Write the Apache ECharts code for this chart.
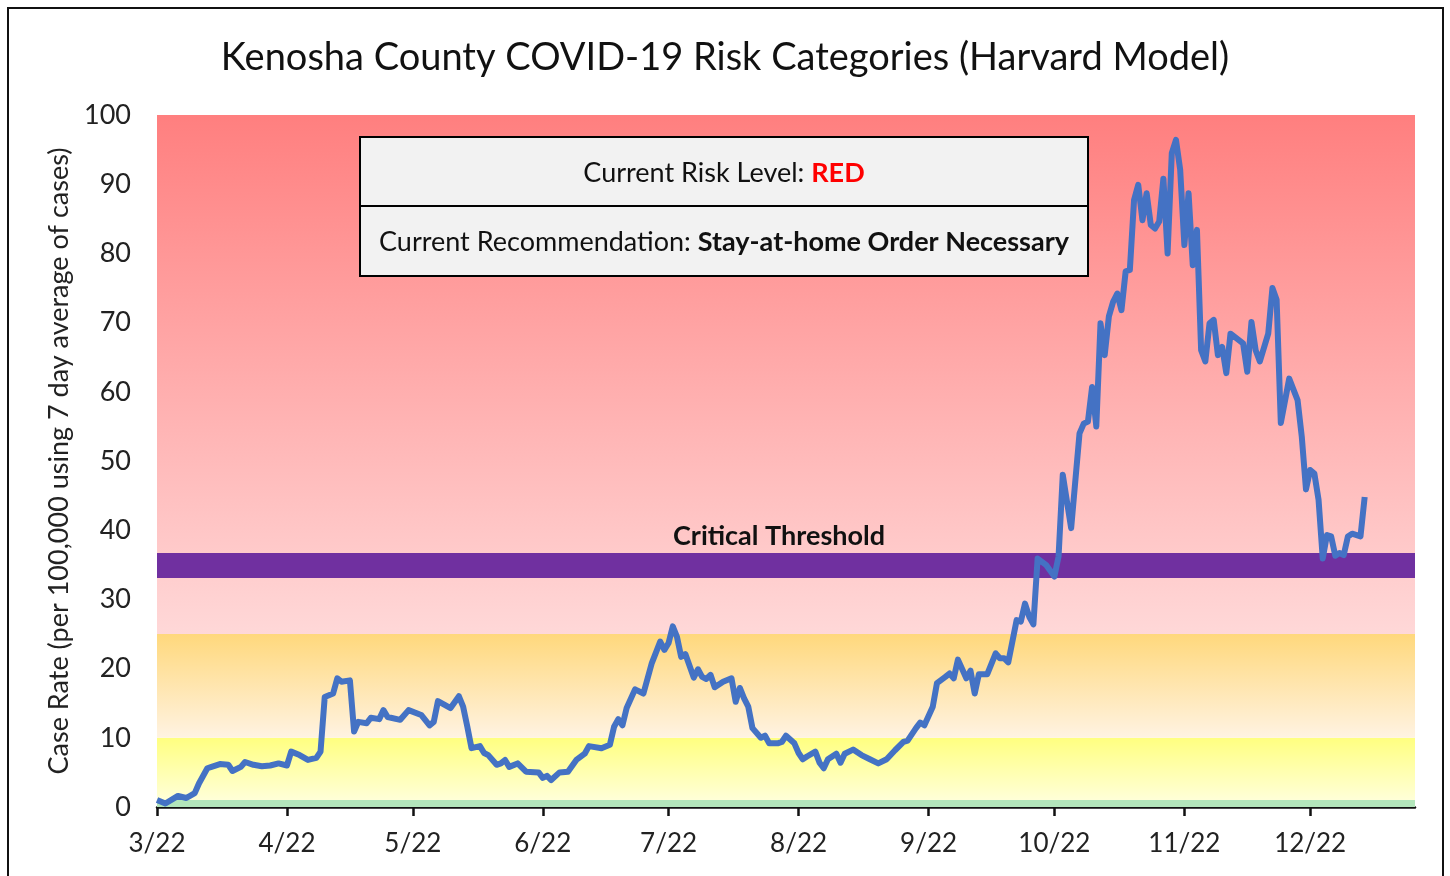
<!DOCTYPE html>
<html>
<head>
<meta charset="utf-8">
<title>Kenosha County COVID-19 Risk Categories</title>
<script src="https://cdn.jsdelivr.net/npm/echarts@6/dist/echarts.min.js"></script>
<style>
  html, body { margin: 0; padding: 0; background: #fff; }
  #chart { width: 1450px; height: 876px; }
</style>
</head>
<body>
<div id="chart"></div>
<script>
// days since 3/22/2020 and the 7-day case rate
const days = [0,2,5,7,9,10,12,13,15,17,18,20,21,23,25,27,29,31,32,34,36,38,39,40,42,43,44,46,47,48,50,51,53,54,55,58,60,63,65,66,67,70,72,73,74,75,77,78,79,81,82,83,84,86,88,91,92,93,94,96,98,100,102,103,106,108,109,110,111,112,114,116,118,120,121,122,123,124,125,126,128,129,130,131,132,133,135,137,138,139,140,141,142,144,145,146,148,149,150,152,153,154,155,157,158,159,160,162,163,164,166,168,170,172,174,176,178,179,181,182,183,185,186,188,189,190,191,193,194,195,196,198,200,201,202,203,205,206,207,208,209,210,212,214,215,216,218,220,221,222,223,224,225,226,227,228,229,230,231,232,233,234,235,236,237,238,239,240,241,242,243,244,245,246,247,248,249,250,251,252,253,254,255,256,259,260,261,262,263,265,266,267,268,270,272,273,274,275,276,277,278,279,280,281,282,283,284,285,287,288]
const caseRate = [1.0,0.5,1.6,1.3,2.0,3.4,5.6,5.8,6.2,6.1,5.2,5.8,6.5,6.1,5.9,6.0,6.3,6.0,8.0,7.5,6.8,7.1,8.0,15.9,16.4,18.6,18.1,18.3,10.9,12.3,12.1,12.9,12.7,14.0,13.0,12.6,14.0,13.3,11.8,12.3,15.3,14.3,16.0,14.5,11.6,8.5,8.8,7.8,7.5,6.1,6.3,6.8,5.8,6.3,5.1,5.0,4.2,4.5,3.9,5.0,5.1,6.8,7.7,8.8,8.5,9.0,11.6,12.7,11.8,14.3,17.0,16.4,20.8,23.9,22.7,23.7,26.1,24.6,21.7,22.1,18.7,19.9,18.8,18.5,19.1,17.3,18.1,18.6,15.2,17.2,15.7,14.5,11.4,10.0,10.3,9.2,9.2,9.4,10.3,9.2,7.8,6.9,7.3,8.0,6.4,5.6,6.9,7.7,6.4,7.7,8.3,7.5,6.9,6.3,6.9,8.2,9.4,9.6,11.4,12.2,11.8,14.5,17.9,18.8,19.3,18.6,21.3,18.6,19.7,16.4,19.2,19.2,22.2,21.5,21.5,20.9,27.0,26.8,29.4,27.5,26.4,35.9,35.0,33.3,36.2,48.0,40.3,54.0,55.4,55.7,60.7,55.0,69.9,65.3,70.9,73.0,74.2,71.8,77.4,77.6,87.7,89.9,84.8,88.7,84.1,83.6,84.6,90.8,80.0,94.5,96.4,92.1,81.2,88.7,78.3,83.4,66.0,64.4,69.9,70.4,65.3,66.5,62.7,68.4,67.0,62.9,70.1,66.0,64.4,68.4,75.0,73.3,55.5,61.9,58.8,53.5,45.9,48.7,48.2,44.4,35.9,39.3,39.1,36.3,36.7,36.4,39.1,39.5,39.1,44.8]

// risk bands [from, to, topColor, bottomColor]
const riskBands = [
  [0, 1, '#b3e6bb', '#b3e6bb'],
  [1, 10, '#ffff80', '#ffffd8'],
  [10, 25, '#ffd87c', '#fff3e2'],
  [25, 100, '#ff7f7f', '#ffd8d8']
]
const threshold = [33.1, 36.7]

const startDate = new Date(2020, 2, 22)
const totalDays = 300
const categories = []
for (let i = 0; i <= totalDays; i++) {
  const d = new Date(startDate.getFullYear(), startDate.getMonth(), startDate.getDate() + i)
  categories.push((d.getMonth() + 1) + '/' + d.getDate())
}

const titleText = 'Kenosha County COVID-19 Risk Categories (Harvard Model)'
const yName = 'Case Rate (per 100,000 using 7 day average of cases)'
const FONT = 'Lato, "Open Sans", sans-serif'

const isTick = (idx, val) => /\/22$/.test(val)

const bandAreas = riskBands.map(([lo, hi, top, bottom]) => [
  {
    yAxis: hi,
    itemStyle: {
      color: {
        type: 'linear', x: 0, y: 0, x2: 0, y2: 1,
        colorStops: [{ offset: 0, color: top }, { offset: 1, color: bottom }]
      }
    }
  },
  { yAxis: lo }
])
bandAreas.push([
  {
    yAxis: threshold[1],
    itemStyle: { color: '#7030a0' },
    label: {
      show: true, position: 'top', distance: 3, offset: [-7, 0],
      formatter: 'Critical Threshold',
      fontFamily: FONT, fontWeight: 'bold', fontSize: 27, color: '#111'
    }
  },
  { yAxis: threshold[0] }
])

const chart = echarts.init(document.getElementById('chart'), null, { renderer: 'canvas' })

// info box (two rows)
const box = { x: 360, y: 137, w: 728, h: 139 }

chart.setOption({
  animation: false,
  backgroundColor: '#fff',
  title: {
    text: titleText,
    left: 'center', top: 34,
    textStyle: { fontFamily: FONT, fontSize: 38, fontWeight: 'normal', color: '#111' }
  },
  grid: { left: 157, right: 35, top: 115, bottom: 69 },
  xAxis: {
    type: 'category',
    data: categories,
    boundaryGap: false,
    axisLine: { lineStyle: { color: '#111', width: 2.5 } },
    axisTick: { interval: isTick, length: 9, lineStyle: { color: '#111', width: 2.5 } },
    axisLabel: {
      interval: isTick, margin: 24,
      fontFamily: FONT, fontSize: 26, color: '#222'
    },
    splitLine: { show: false }
  },
  yAxis: {
    type: 'value',
    min: 0, max: 100, interval: 10,
    name: yName,
    nameLocation: 'middle',
    nameGap: 82,
    nameTextStyle: { fontFamily: FONT, fontSize: 27, color: '#222' },
    axisLine: { show: false },
    axisTick: { show: false },
    splitLine: { show: false },
    axisLabel: { margin: 26, fontFamily: FONT, fontSize: 27, color: '#222' }
  },
  series: [{
    type: 'line',
    data: days.map((d, i) => [d, caseRate[i]]),
    showSymbol: false,
    lineStyle: { color: '#4472c4', width: 6, join: 'round' },
    z: 5,
    markArea: {
      silent: true,
      label: { show: false },
      data: bandAreas
    }
  }],
  graphic: {
    elements: [
      {
        type: 'rect', silent: true, z: 100,
        shape: { x: 8, y: 8, width: 1435, height: 880 },
        style: { fill: 'transparent', stroke: '#111', lineWidth: 2 }
      },
      {
        type: 'rect', z: 100,
        shape: { x: box.x, y: box.y, width: box.w, height: box.h },
        style: { fill: '#f2f2f2', stroke: '#000', lineWidth: 2 }
      },
      {
        type: 'line', z: 101,
        shape: { x1: box.x, y1: box.y + 69, x2: box.x + box.w, y2: box.y + 69 },
        style: { stroke: '#000', lineWidth: 2 }
      },
      {
        type: 'text', z: 102,
        x: box.x + box.w / 2, y: box.y + 36,
        style: {
          text: 'Current Risk Level: {r|RED}',
          align: 'center', verticalAlign: 'middle',
          font: '27px ' + FONT, fill: '#111',
          rich: { r: { fontSize: 27, fontFamily: FONT, fontWeight: 'bold', fill: '#ff0000' } }
        }
      },
      {
        type: 'text', z: 102,
        x: box.x + box.w / 2, y: box.y + 105,
        style: {
          text: 'Current Recommendation: {b|Stay-at-home Order Necessary}',
          align: 'center', verticalAlign: 'middle',
          font: '27px ' + FONT, fill: '#111',
          rich: { b: { fontSize: 27, fontFamily: FONT, fontWeight: 'bold', fill: '#111' } }
        }
      }
    ]
  }
})

window.addEventListener('resize', () => chart.resize())
</script>
</body>
</html>
